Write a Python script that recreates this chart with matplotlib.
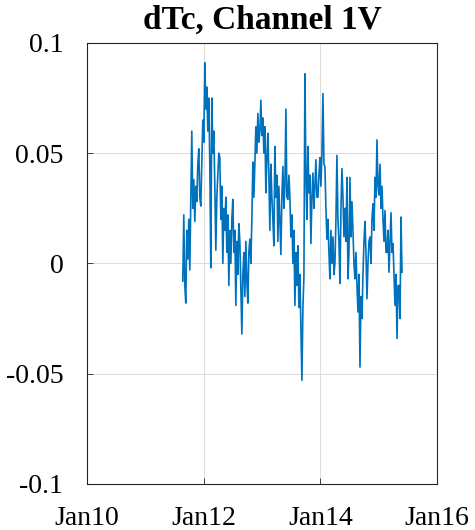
import matplotlib
matplotlib.use('Agg')
import matplotlib.pyplot as plt
import matplotlib.dates as mdates
import matplotlib.ticker as mticker
import pandas as pd

# dTc values, roughly one sample every ~6 days
start = '2011-08-24'
end = '2015-05-27'
dtc = [-0.008, 0.022, -0.010, -0.018, 0.015, 0.002, 0.020, -0.003, 0.030, 0.060,
       0.025, 0.038, 0.019, 0.035, 0.028, 0.045, 0.052, 0.030, 0.026, 0.045,
       0.065, 0.055, 0.091, 0.070, 0.080, 0.060, 0.075, 0.045, -0.002, 0.075,
       0.050, 0.060, 0.035, 0.006, 0.030, 0.040, 0.050, 0.048, 0.020, 0.035,
       0.000, 0.025, 0.015, 0.030, 0.005, 0.022, -0.010, 0.015, 0.000, 0.020,
       0.029, 0.005, 0.015, -0.019, 0.010, -0.005, 0.018, 0.010, -0.010, -0.032,
       -0.005, 0.005, -0.015, 0.010, -0.008, -0.018, 0.005, 0.011, 0.000, 0.020,
       0.046, 0.030, 0.045, 0.062, 0.050, 0.068, 0.055, 0.060, 0.074, 0.058,
       0.066, 0.050, 0.062, 0.032, 0.048, 0.059, 0.040, 0.015, 0.045, 0.030,
       0.020, 0.008, 0.053, 0.030, 0.040, 0.010, 0.035, 0.020, 0.004, 0.030,
       0.044, 0.025, 0.035, 0.070, 0.030, 0.029, 0.040, 0.030, 0.012, 0.022,
       0.000, 0.015, -0.019, 0.005, -0.010, 0.008, -0.020, -0.005, -0.030, -0.053,
       -0.020, -0.006, 0.086, 0.040, 0.020, 0.053, 0.032, 0.040, 0.009, 0.030,
       0.041, 0.025, 0.035, 0.047, 0.030, 0.030, 0.040, 0.048, 0.035, 0.050,
       0.077, 0.045, 0.044, 0.025, 0.011, 0.020, 0.005, -0.007, 0.015, 0.000,
       0.012, -0.005, 0.000, 0.020, 0.049, 0.020, 0.010, -0.009, 0.025, 0.043,
       0.030, 0.012, 0.025, 0.010, 0.039, -0.007, 0.005, 0.039, 0.012, 0.028,
       0.015, 0.000, -0.007, 0.005, -0.010, -0.022, -0.005, -0.047, -0.015, -0.025,
       -0.005, 0.010, 0.019, 0.005, -0.016, 0.000, 0.010, 0.012, 0.000, 0.020,
       0.027, 0.015, 0.039, 0.030, 0.056, 0.035, 0.031, 0.045, 0.025, 0.035,
       0.020, 0.010, 0.024, 0.005, 0.005, 0.015, -0.004, 0.010, 0.023, 0.005,
       0.009, -0.005, -0.019, -0.005, -0.034, -0.010, -0.010, -0.025, 0.021, -0.004]

yticks = [-0.1, -0.05, 0, 0.05, 0.1]
ytick_labels = ['-0.1', '-0.05', '0', '0.05', '0.1']
xticks = ['2010-01-01', '2012-01-01', '2014-01-01', '2016-01-01']

dates = pd.date_range(start, end, periods=len(dtc))

plt.rcParams['font.family'] = ['Liberation Serif', 'DejaVu Serif']

fig = plt.figure(figsize=(4.75, 5.3), dpi=100)
ax = fig.add_axes([0.183, 0.087, 0.737, 0.832])
ax.plot(dates, dtc, color='#0072BD', linewidth=1.2)

ax.set_xlim(pd.Timestamp('2010-01-01'), pd.Timestamp('2016-01-01'))
ax.set_ylim(-0.1, 0.1)
ax.set_xticks(pd.to_datetime(xticks))
ax.xaxis.set_major_formatter(mdates.DateFormatter('%b%y'))
ax.set_yticks(yticks)
ax.yaxis.set_major_formatter(mticker.FixedFormatter(ytick_labels))

ax.grid(True, color='#dcdcdc', linewidth=0.7)
ax.set_axisbelow(True)
for s in ax.spines.values():
    s.set_color('#262626')
    s.set_linewidth(0.8)
ax.tick_params(direction='in', length=4, width=0.6, colors='#262626',
               labelsize=20, labelcolor='black', top=False, right=False)
ax.tick_params(axis='x', pad=16)
ax.tick_params(axis='y', pad=17)

ax.set_title('dTc, Channel 1V', fontsize=24, fontweight='bold', pad=10)

fig.savefig('out.png', dpi=100)
